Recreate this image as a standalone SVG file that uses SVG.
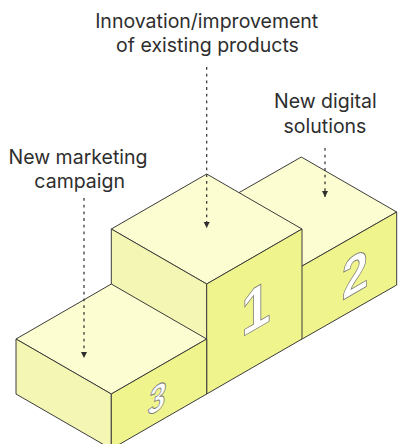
<svg xmlns="http://www.w3.org/2000/svg" width="398" height="444" viewBox="0 0 398 444">
  <style>
    .edge { stroke: #3c3c3a; stroke-width: 1; stroke-linejoin: round; }
    .top { fill: #fcfdd1; }
    .left { fill: #f4f6b3; }
    .right { fill: #f0f48d; }
    .num { font-family: "Liberation Sans", Arial, sans-serif; font-weight: 700; fill: #ffffff; stroke: #7e7e76; stroke-width: 0.9; text-anchor: middle; }
    .label { font-family: Inter, "Liberation Sans", sans-serif; font-size: 19.5px; fill: #2e2e2e; text-anchor: middle; }
    .lead { stroke: #2e2e2e; stroke-width: 1.2; stroke-dasharray: 2.8 3.9; fill: none; }
  </style>
  <defs>
    <marker id="tip" markerUnits="userSpaceOnUse" markerWidth="8" markerHeight="8" refX="6" refY="3" orient="auto">
      <path d="M0,0 L6,3 L0,6 Z" fill="#2e2e2e"/>
    </marker>
  </defs>

  <!-- second place: right-back block -->
  <g id="block-2">
    <polygon class="left edge" points="206,211.5 301.3,266.5 301.3,339.5 206,284.5"/>
    <polygon class="top edge" points="301.3,157 396.7,212 301.3,266.5 206,211.5"/>
    <polygon class="right edge" points="301.3,266.5 396.7,212 396.7,285 301.3,339.5"/>
    <text class="num" font-size="55" transform="matrix(0.866 -0.5 0 1 355 293)">2</text>
  </g>

  <!-- first place: tallest centre block -->
  <g id="block-1">
    <polygon class="top edge" points="206.7,174 302,229 206.7,284 111.3,229"/>
    <polygon class="left edge" points="111.3,229 206.7,284 206.7,394 111.3,339"/>
    <polygon class="right edge" points="206.7,284 302,229 302,339 206.7,394"/>
    <text class="num" font-size="61" transform="matrix(0.866 -0.5 0 1 256 329)">1</text>
  </g>

  <!-- third place: low front-left block -->
  <g id="block-3">
    <polygon class="top edge" points="111.3,284 206.7,339 111.3,394 16,339"/>
    <polygon class="left edge" points="16,339 111.3,394 111.3,449 16,394"/>
    <polygon class="right edge" points="111.3,394 206.7,339 206.7,394 111.3,449"/>
    <text class="num" font-size="37" font-style="italic" transform="matrix(0.866 -0.5 0 1 157 411)">3</text>
  </g>

  <!-- dashed leaders from captions to blocks -->
  <g id="connectors">
    <line class="lead" x1="206.7" y1="67" x2="206.7" y2="228" marker-end="url(#tip)"/>
    <line class="lead" x1="325" y1="148" x2="325" y2="197" marker-end="url(#tip)"/>
    <line class="lead" x1="84" y1="198" x2="84" y2="358" marker-end="url(#tip)"/>
  </g>

  <g id="labels">
    <text class="label" x="206.7" y="27.7">Innovation/improvement</text>
    <text class="label" x="207.5" y="51.5">of existing products</text>
    <text class="label" x="325.3" y="108.3">New digital</text>
    <text class="label" x="325" y="132.5">solutions</text>
    <text class="label" x="78" y="164.3">New marketing</text>
    <text class="label" x="79.7" y="188.3">campaign</text>
  </g>
</svg>
